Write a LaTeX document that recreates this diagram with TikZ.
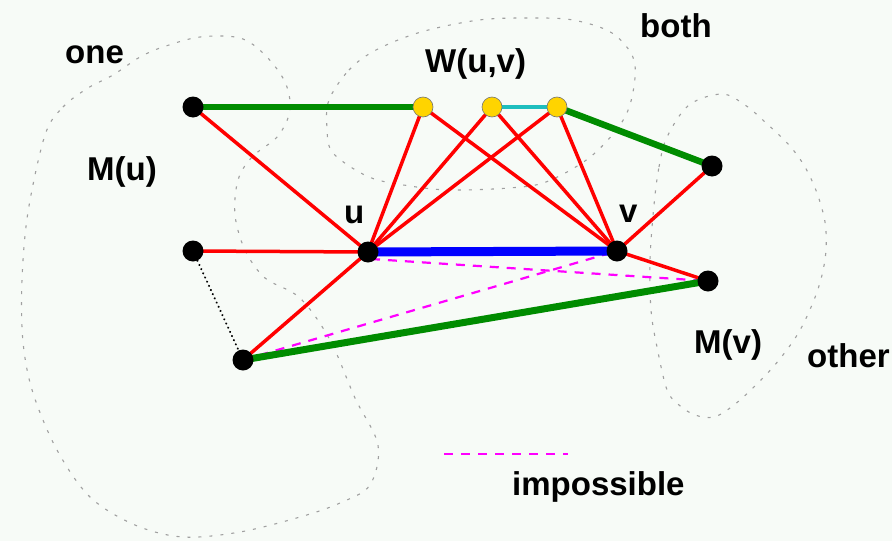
\documentclass[tikz,border=0pt]{standalone}
\usepackage{fontspec}
\setmainfont{Liberation Sans}
\definecolor{bgc}{RGB}{247,251,247}
\definecolor{gre}{RGB}{0,140,0}
\definecolor{yel}{RGB}{255,212,0}
\definecolor{cya}{RGB}{30,190,190}
\definecolor{mag}{RGB}{255,0,255}
\definecolor{reg}{RGB}{160,160,160}
\pgfdeclarelayer{back}
\pgfdeclarelayer{edges}
\pgfsetlayers{back,edges,main}
\begin{document}
\begin{tikzpicture}[x=1pt,y=-1pt,
  dot/.style={circle, fill=black, inner sep=0pt, minimum size=21pt},
  ydot/.style={circle, fill=yel, draw=black!55, line width=0.6pt, inner sep=0pt, minimum size=20pt},
  rededge/.style={draw=red, line width=3.5pt},
  greenedge/.style={draw=gre, line width=6.5pt},
  blueedge/.style={draw=blue, line width=9pt},
  cyanedge/.style={draw=cya, line width=4.5pt},
  imposs/.style={draw=mag, line width=2.2pt, dash pattern=on 9pt off 8pt},
  dotline/.style={draw=black, line width=2.2pt, dash pattern=on 0.1pt off 4.5pt, line cap=round},
  region/.style={draw=reg, line width=1.1pt, dash pattern=on 3pt off 8pt},
  lbl/.style={font=\fontsize{33}{36}\selectfont\bfseries, inner sep=0pt, anchor=base west}
]
\begin{pgfonlayer}{back}
\fill[bgc] (0,0) rectangle (892,541);
\end{pgfonlayer}
\useasboundingbox (0,0) rectangle (892,541);

% regions
\begin{pgfonlayer}{back}
\draw[region] plot[smooth cycle, tension=0.55] coordinates {
 (45,135) (63,107) (88,88) (113,75) (140,57) (163,47) (200,37) (240,38)
 (265,55) (285,82) (290,110) (278,136) (252,157) (238,180) (235,215)
 (245,250) (265,278) (300,298) (330,340) (355,398) (378,445) (370,485)
 (340,503) (300,517) (240,532) (183,537) (135,525) (90,497) (57,450)
 (33,393) (23,342) (22,280) (28,212)};
\draw[region] plot[smooth cycle, tension=0.55] coordinates {
 (329,100) (349,70) (376,50) (421,32) (479,20) (530,18) (573,20)
 (612,33) (634,60) (632,97) (620,125) (589,158) (546,182) (509,188)
 (450,190) (410,186) (369,177) (333,153) (327,128)};
\draw[region] plot[smooth cycle, tension=0.55] coordinates {
 (654,205) (659,167) (667,137) (689,105) (722,94) (745,105) (765,122)
 (789,145) (805,167) (817,193) (825,222) (826,250) (822,275) (814,300)
 (799,332) (779,360) (758,383) (734,405) (714,417) (695,415) (679,405)
 (667,390) (657,347) (651,310) (650,260)};
\end{pgfonlayer}

% vertices
\node[dot]  (a)  at (193,107) {};
\node[ydot] (w1) at (423,107) {};
\node[ydot] (w2) at (492,107) {};
\node[ydot] (w3) at (557,107) {};
\node[dot]  (r1) at (712,166) {};
\node[dot]  (u)  at (368,252) {};
\node[dot]  (v)  at (617,251) {};
\node[dot]  (b)  at (193,251) {};
\node[dot]  (r2) at (708,281) {};
\node[dot]  (c)  at (243,360) {};
\coordinate (ua) at (371,259);
\coordinate (l1) at (444,454);
\coordinate (l2) at (568,454);

% edges
\begin{pgfonlayer}{edges}
\draw[imposs] (ua) -- (r2.center);
\draw[imposs] (c.center) -- (v.center);
\draw[imposs] (l1) -- (l2);
\foreach \s/\t in {a/u, b/u, c/u, w1/u, w2/u, w3/u, w1/v, w2/v, w3/v, r1/v, r2/v}
  \draw[rededge] (\s.center) -- (\t.center);
\draw[greenedge, line width=5.5pt] (a.center) -- (w1.center);
\draw[greenedge] (w3.center) -- (r1.center);
\draw[greenedge, line width=7pt] (c.center) -- (r2.center);
\draw[cyanedge] (w2.center) -- (w3.center);
\draw[blueedge] (u.center) -- (v.center);
\draw[dotline] (b) -- (c);
\end{pgfonlayer}

% labels
\node[lbl] (tone)  at (65,63)   {one};
\node[lbl] (tmu)   at (87,180)  {M(u)};
\node[lbl] (tu)    at (344,223) {u};
\node[lbl] (tw)    at (425,72)  {W(u,v)};
\node[lbl] (tboth) at (640,37)  {both};
\node[lbl] (tv)    at (619,222) {v};
\node[lbl] (tmv)   at (694,353) {M(v)};
\node[lbl] (toth)  at (807,367) {other};
\node[lbl] (timp)  at (512,495) {impossible};
\end{tikzpicture}
\end{document}
